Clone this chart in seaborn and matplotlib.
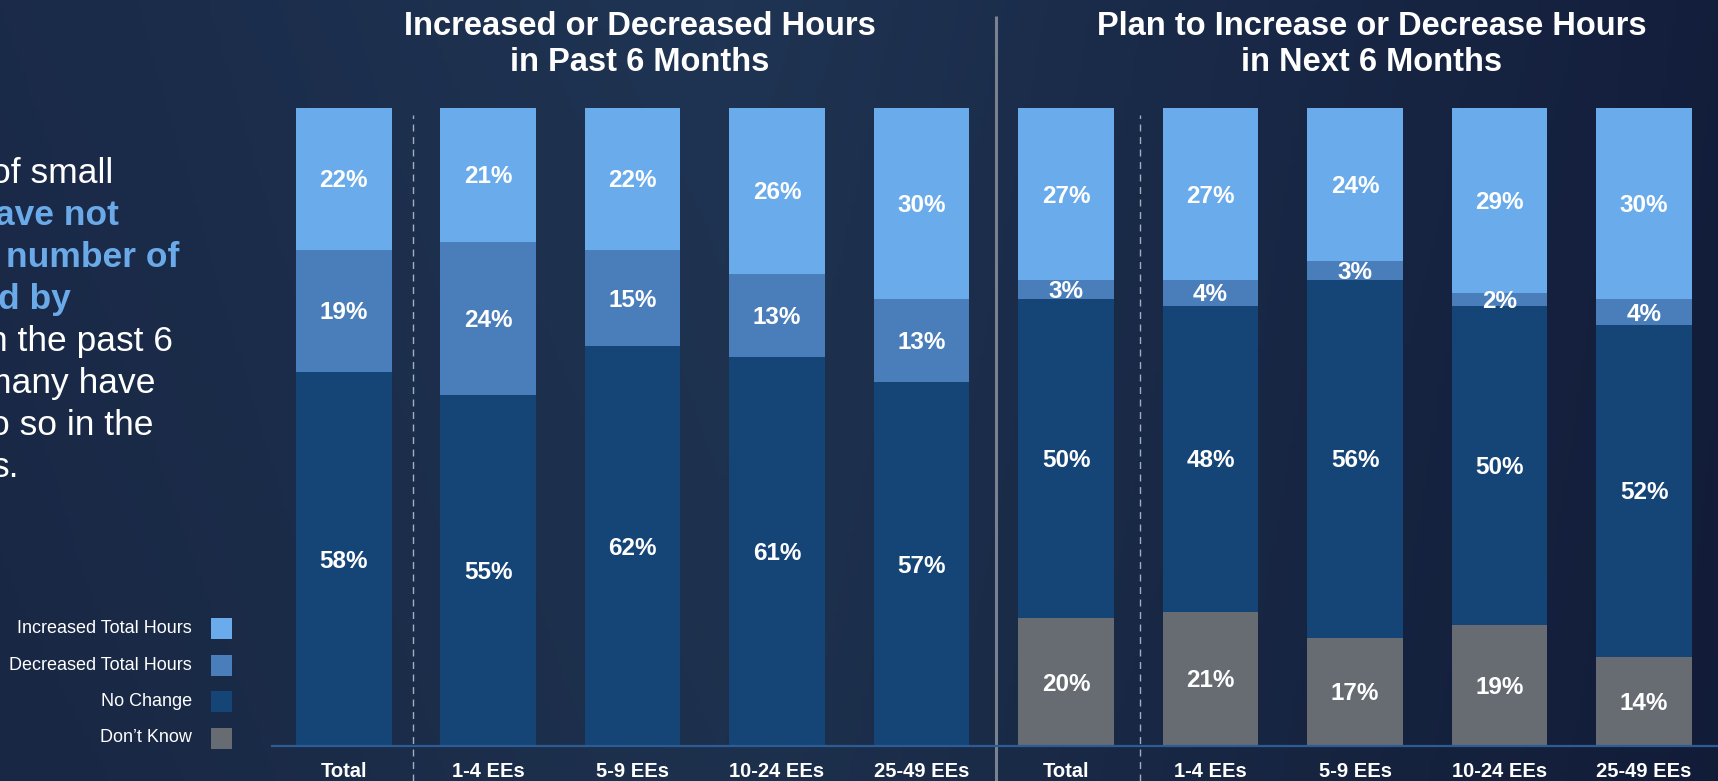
import numpy as np
import pandas as pd
import matplotlib
matplotlib.use("Agg")
import matplotlib.pyplot as plt
import seaborn as sns
from matplotlib.patches import Rectangle

# ---------------- data ----------------
categories = ["Total", "1-4 EEs", "5-9 EEs", "10-24 EEs", "25-49 EEs"]
panels = ["Past", "Next"]
titles = ["Increased or Decreased Hours\nin Past 6 Months",
          "Plan to Increase or Decrease Hours\nin Next 6 Months"]
series = ["Increased Total Hours", "Decreased Total Hours", "No Change", "Don\u2019t Know"]

increased_past = [22, 21, 22, 26, 30]
decreased_past = [19, 24, 15, 13, 13]
nochange_past = [58, 55, 62, 61, 57]
dontknow_past = [0, 0, 0, 0, 0]

increased_next = [27, 27, 24, 29, 30]
decreased_next = [3, 4, 3, 2, 4]
nochange_next = [50, 48, 56, 50, 52]
dontknow_next = [20, 21, 17, 19, 14]

note_white_1 = "of small"
note_blue_1 = "ave not"
note_blue_2 = "number of"
note_blue_3 = "d by"
note_white_2 = "n the past 6"
note_white_3 = "many have"
note_white_4 = "o so in the"
note_white_5 = "s."

colors = ["#6AACEB", "#4A7EBB", "#154577", "#676B72"]

# ---------------- frame ----------------
rows = []
for p, inc, dec, nc, dk in [("Past", increased_past, decreased_past, nochange_past, dontknow_past),
                            ("Next", increased_next, decreased_next, nochange_next, dontknow_next)]:
    for c, a, b, n, d in zip(categories, inc, dec, nc, dk):
        rows.append(dict(key=f"{p}|{c}", cat=c, inc=a, dec=b, nc=n, dk=d))
df = pd.DataFrame(rows)
tot = df[["inc", "dec", "nc", "dk"]].sum(axis=1)
for s in ["inc", "dec", "nc", "dk"]:
    df[s + "_n"] = df[s] / tot * 100
df["c_dk"] = df["dk_n"]
df["c_nc"] = df["c_dk"] + df["nc_n"]
df["c_dec"] = df["c_nc"] + df["dec_n"]
df["c_inc"] = df["c_dec"] + df["inc_n"]
order = list(df["key"])

# ---------------- figure ----------------
W, H = 1718, 781
fig = plt.figure(figsize=(W / 100, H / 100), dpi=100)
FAM = ["Liberation Sans", "DejaVu Sans"]

# background gradient
bg = fig.add_axes([0, 0, 1, 1], zorder=-10)
xs = np.linspace(0, 1, 400)
ys = np.linspace(0, 1, 200)
X, Y = np.meshgrid(xs, ys)
c0 = np.array([0.102, 0.165, 0.285])
c1 = np.array([0.122, 0.205, 0.325])
c2 = np.array([0.075, 0.118, 0.235])
t1 = np.clip(X / 0.42, 0, 1)[..., None]
t2 = np.clip((X - 0.42) / 0.58, 0, 1)[..., None]
img = np.where(X[..., None] < 0.42, c0 * (1 - t1) + c1 * t1, c1 * (1 - t2) + c2 * t2)
img = img * (1 - 0.07 * Y[..., None])
bg.imshow(img, aspect="auto", extent=[0, 1, 0, 1], origin="upper")
bg.set_xlim(0, 1)
bg.set_ylim(0, 1)
bg.axis("off")

def fx(px):
    return px / W

def fy(py):
    return 1 - py / H

ax_left, ax_bot, ax_top = 272, 746, 108
ax = fig.add_axes([fx(ax_left), fy(ax_bot), 1 - fx(ax_left), (ax_bot - ax_top) / H])
ax.patch.set_alpha(0)

layers = [("c_inc", colors[0]), ("c_dec", colors[1]), ("c_nc", colors[2]), ("c_dk", colors[3])]
for col, colr in layers:
    sns.barplot(data=df, x="key", y=col, order=order, color=colr, saturation=1,
                width=0.664, errorbar=None, ax=ax, linewidth=0, zorder=2)

ax.set_xlim(-0.495, 9.512)
ax.set_ylim(0, 100)
for s in ax.spines.values():
    s.set_visible(False)
ax.set_yticks([])
ax.set_ylabel("")
ax.set_xlabel("")
ax.set_xticks(range(len(order)))
ax.set_xticklabels(list(df["cat"]), color="white", fontsize=14.5, fontweight="bold", family=FAM)
ax.tick_params(axis="x", length=0, pad=11.5)

# segment labels
for i, r in df.iterrows():
    segs = [("dk", 0, r["c_dk"]), ("nc", r["c_dk"], r["c_nc"]),
            ("dec", r["c_nc"], r["c_dec"]), ("inc", r["c_dec"], r["c_inc"])]
    for s, lo, hi in segs:
        v = r[s]
        if v > 0:
            ax.text(i, (lo + hi) / 2 - 0.3, f"{v}%", ha="center", va="center", color="white",
                    fontsize=17.5, fontweight="bold", family=FAM, zorder=5)

# baseline
ax.axhline(0, color="#2C5C93", lw=1.6, zorder=4, clip_on=False)

def yaf(py):
    return (ax_bot - py) / (ax_bot - ax_top)

xt = ax.get_xaxis_transform()
# dashed dividers after "Total"
ax.vlines([0.481, 5.512], yaf(H), yaf(115), transform=xt, colors="#A3AEBF", lw=1.0,
          linestyles=(0, (5, 4)), clip_on=False, zorder=3)
# solid panel separator
ax.vlines([4.515], yaf(H), yaf(16), transform=xt, colors="#78838F", lw=2.2,
          clip_on=False, zorder=3)

# panel titles
for cx, ttl in zip([640, 1372], titles):
    l1, l2 = ttl.split("\n")
    fig.text(fx(cx), fy(35), l1, ha="center", va="baseline", color="white",
             fontsize=23.5, fontweight="bold", family=FAM)
    fig.text(fx(cx), fy(71), l2, ha="center", va="baseline", color="white",
             fontsize=23.5, fontweight="bold", family=FAM)

# left-side note (cropped slide text)
note = [(note_white_1, 113, "white", "normal"),
        (note_blue_1, 119, "#6AAAE8", "bold"),
        (note_blue_2, 179, "#6AAAE8", "bold"),
        (note_blue_3, 71, "#6AAAE8", "bold"),
        (note_white_2, 173, "white", "normal"),
        (note_white_3, 155, "white", "normal"),
        (note_white_4, 153, "white", "normal"),
        (note_white_5, 19, "white", "normal")]
for k, (txt, xr, colr, wt) in enumerate(note):
    fig.text(fx(xr), fy(183 + 42 * k), txt, ha="right", va="baseline", color=colr,
             fontsize=25.5, fontweight=wt, family=FAM)

# legend
for k, (name, colr) in enumerate(zip(series, colors)):
    yc = 628.5 + 36.5 * k
    fig.text(fx(192), fy(yc), name, ha="right", va="center", color="white",
             fontsize=13, family=FAM)
    fig.add_artist(Rectangle((fx(211), fy(yc + 10.5)), fx(21), 21 / H,
                             transform=fig.transFigure, facecolor=colr, edgecolor="none"))

fig.savefig("out.png", dpi=100)
